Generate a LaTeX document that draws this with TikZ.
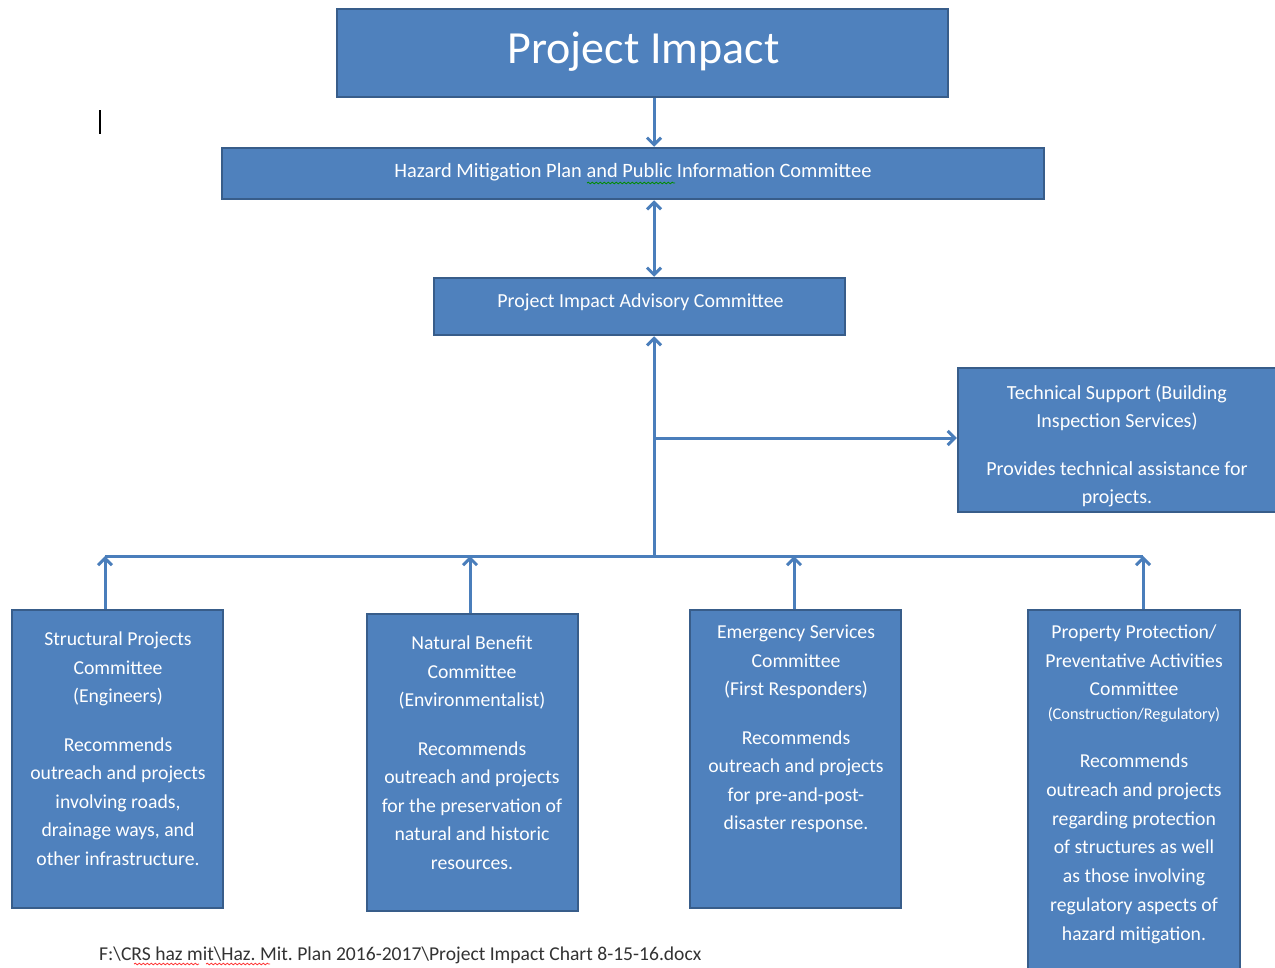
\documentclass[tikz,border=0pt]{standalone}
\usepackage{fontspec}
\setmainfont{Carlito}
\usetikzlibrary{arrows.meta,decorations.pathmorphing}
\frenchspacing

\definecolor{boxblue}{HTML}{4F81BD}
\definecolor{boxedge}{HTML}{385D8A}
\definecolor{linkblue}{HTML}{4A7EBB}

\tikzset{
  box/.style={draw=boxedge, fill=boxblue, line width=2.5pt, inner sep=0pt},
  boxtext/.style={text=white, align=center, inner sep=0pt, font={\fontsize{19.7}{28.5}\selectfont}},
  link/.style={draw=linkblue, line width=3pt},
  squiggle/.style={decorate, decoration={snake, amplitude=0.8pt, segment length=4pt}, line width=0.8pt},
  >={Straight Barb[length=7pt,width=14pt]}
}

\begin{document}
\begin{tikzpicture}[x=1pt,y=-1pt]

\clip (0,0) rectangle (1275,967);
\fill[white] (0,0) rectangle (1275,967);

% boxes
\node[box, minimum width=611pt, minimum height=88pt] (imp) at (642.5,53) {};
\node[box, minimum width=822pt, minimum height=51pt] (haz) at (633,173.5) {};
\node[box, minimum width=411pt, minimum height=57pt] (adv) at (639.5,306.5) {};
\node[box, minimum width=322pt, minimum height=144pt] (tech) at (1119,440) {};
\node[box, minimum width=211pt, minimum height=298pt] (sp) at (117.5,759) {};
\node[box, minimum width=211pt, minimum height=297pt] (nb) at (472.5,762.5) {};
\node[box, minimum width=211pt, minimum height=298pt] (es) at (795.5,759) {};
\node[box, minimum width=212pt, minimum height=372pt] (pp) at (1134,796) {};

% texts
\node[boxtext, font={\fontsize{46}{50}\selectfont}] (impt) at (643.5,52) {Project Impact};
\node[boxtext, font={\fontsize{20.4}{24}\selectfont}] (hazt) at (633,172) {Hazard Mitigation Plan and Public Information Committee};
\node[boxtext, font={\fontsize{19.9}{24}\selectfont}] (advt) at (640.5,302) {Project Impact Advisory Committee};
\node[boxtext, anchor=north, font={\fontsize{20}{28}\selectfont}] (techt) at (1117,385)
  {Technical Support (Building\\ Inspection Services)\\[20pt] Provides technical assistance for\\ projects.};
\node[boxtext, anchor=north] (spt) at (118,632)
  {Structural Projects\\ Committee\\ (Engineers)\\[20pt] Recommends\\ outreach and projects\\ involving roads,\\ drainage ways, and\\ other infrastructure.};
\node[boxtext, anchor=north] (nbt) at (472,636)
  {Natural Benefit\\ Committee\\ (Environmentalist)\\[20pt] Recommends\\ outreach and projects\\ for the preservation of\\ natural and historic\\ resources.};
\node[boxtext, anchor=north] (est) at (796,625)
  {Emergency Services\\ Committee\\ (First Responders)\\[20pt] Recommends\\ outreach and projects\\ for pre-and-post-\\ disaster response.};
\node[boxtext, anchor=north] (ppt) at (1134,625)
  {Property Protection/\\ Preventative Activities\\ Committee};
\node[boxtext, font={\fontsize{16.3}{20}\selectfont}] (ppsub) at (1134,715) {(Construction/Regulatory)};
\node[boxtext, anchor=north, font={\fontsize{19.7}{28.7}\selectfont}] (ppt2) at (1134,754)
  {Recommends\\ outreach and projects\\ regarding protection\\ of structures as well\\ as those involving\\ regulatory aspects of\\ hazard mitigation.};

% connectors
\coordinate (spine) at (654,556);
\coordinate (tj) at (654,438);
\coordinate (busL) at (105,556);
\coordinate (busR) at (1143,556);
\draw[link,->] (imp.south -| spine) -- (haz.north -| spine);
\draw[link,<->] (haz.south -| spine) -- (adv.north -| spine);
\draw[link,->] (spine) -- (adv.south -| spine);
\draw[link,->] (tj) -- (tech.west |- tj);
\draw[link] (busL) -- (busR);
\draw[link,->] (sp.north -| busL) -- (busL);
\draw[link,->] (nb.north -| 470,0) -- (470,556);
\draw[link,->] (es.north -| 794,0) -- (794,556);
\draw[link,->] (pp.north -| busR) -- (busR);

% footer and marks
\node[anchor=west, inner sep=0pt, text=black!80, font={\fontsize{19.6}{22}\selectfont}] (path) at (99,955)
  {F:\textbackslash CRS haz mit\textbackslash Haz. Mit. Plan 2016-2017\textbackslash Project Impact Chart 8-15-16.docx};
\draw[squiggle, red!80] (134,964) -- (199,964);
\draw[squiggle, red!80] (206,964) -- (270,964);
\draw[squiggle, green!55!black] (587,183) -- (675,183);
\draw[line width=2.5pt] (100,110) -- (100,134);

\end{tikzpicture}
\end{document}
